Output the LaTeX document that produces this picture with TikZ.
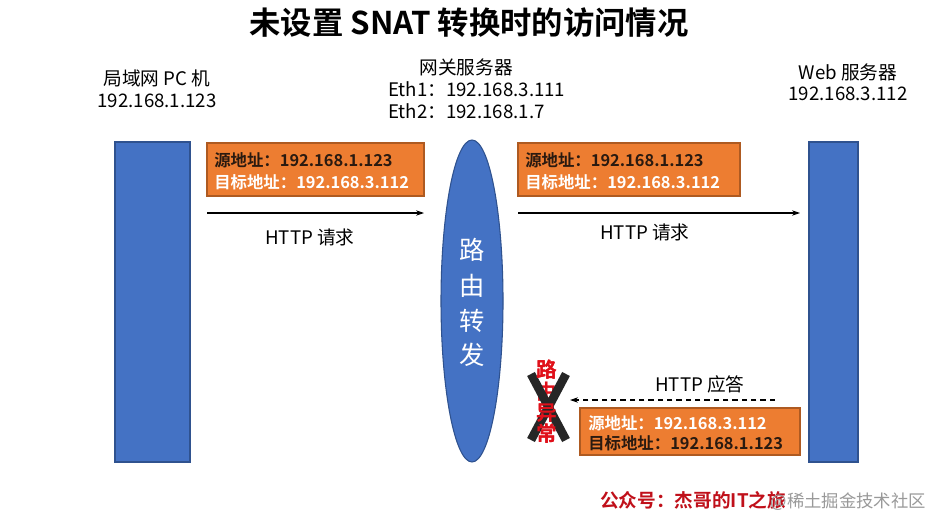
\documentclass[tikz,border=0pt]{standalone}
\usepackage{fontspec}
\setmainfont{Noto Sans CJK SC}
\newfontfamily\cjkbold{Noto Sans CJK SC Bold}
\usetikzlibrary{arrows.meta,shapes.geometric}
\definecolor{boxblue}{HTML}{4472C4}
\definecolor{boxblueedge}{HTML}{2F528F}
\definecolor{addrorange}{HTML}{ED7D31}
\definecolor{addredge}{HTML}{AE5A21}
\definecolor{darktext}{HTML}{2A1A10}
\definecolor{errred}{HTML}{E0101A}
\definecolor{signred}{HTML}{C0101A}
\tikzset{
  host/.style={draw=boxblueedge, line width=0.8pt, fill=boxblue},
  addrbox/.style={draw=addredge, line width=0.8pt, fill=addrorange},
  lbl/.style={font=\fontsize{14}{16}\selectfont, inner sep=0pt},
  addr/.style={font=\cjkbold\fontsize{12.3}{15}\selectfont, inner sep=0pt, anchor=west},
  req/.style={-{Stealth[length=6pt,width=4pt]}, line width=0.8pt},
}
\begin{document}
\begin{tikzpicture}[x=0.75pt,y=-0.75pt]
\useasboundingbox[fill=white] (0,0) rectangle (944,531);

% title
\node[font=\cjkbold\fontsize{23.5}{25}\selectfont, inner sep=0pt] (title) at (469,23) {未设置 SNAT 转换时的访问情况};

% host labels
\node[lbl] (pcname) at (157,78) {局域网 PC 机};
\node[lbl] (pcip) at (157,101) {192.168.1.123};
\node[lbl] (gwname) at (466,67) {网关服务器};
\node[lbl, anchor=west] (gweth1) at (388,89) {Eth1：192.168.3.111};
\node[lbl, anchor=west] (gweth2) at (388,111) {Eth2：192.168.1.7};
\node[lbl] (webname) at (848,72) {Web 服务器};
\node[lbl] (webip) at (848,94) {192.168.3.112};

% hosts
\draw[host] (115,142) rectangle (190,462);
\draw[host] (809,142) rectangle (858,462);
\coordinate (webL) at (800,213);
\node[ellipse, host, minimum width=62*0.75pt, minimum height=322*0.75pt, inner sep=0pt] (gw) at (472,301) {};
\foreach \c/\y in {路/250,由/286,转/321,发/355}
  \node[font=\fontsize{19}{20}\selectfont, text=white, inner sep=0pt] at (472,\y) {\c};

% request left
\draw[addrbox] (207,143) rectangle (424,196);
\node[addr, text=darktext] (a1s) at (214,160) {源地址：192.168.1.123};
\node[addr, text=white] (a1d) at (214,182) {目标地址：192.168.3.112};
\coordinate (r1s) at (207,213);
\coordinate (r1e) at (424,213);
\draw[req] (r1s) -- (r1e);
\node[lbl] (r1l) at (310,237) {HTTP 请求};

% request right
\draw[addrbox] (518,143) rectangle (740,196);
\node[addr, text=darktext] (a2s) at (525,160) {源地址：192.168.1.123};
\node[addr, text=white] (a2d) at (525,182) {目标地址：192.168.3.112};
\coordinate (r2s) at (518,213);
\draw[req] (r2s) -- (webL);
\node[lbl] (r2l) at (645,232) {HTTP 请求};

% response
\node[lbl] (r3l) at (700,384) {HTTP 应答};
\coordinate (r3s) at (775,400);
\coordinate (r3e) at (570,400);
\draw[req, dashed, dash pattern=on 4pt off 3pt] (r3s) -- (r3e);
\draw[addrbox] (580,408) rectangle (800,455);
\node[addr, text=white] (a3s) at (588,423) {源地址：192.168.3.112};
\node[addr, text=darktext] (a3d) at (588,443) {目标地址：192.168.1.123};

% failure mark
\foreach \c/\y in {路/370,由/392,异/413,常/434}
  \node[font=\cjkbold\fontsize{15.5}{16}\selectfont, text=errred, inner sep=0pt] at (547,\y) {\c};
\draw[line width=6.5pt, black!85] (531,374) -- (566,440);
\draw[line width=6.5pt, black!85] (566,374) -- (531,440);
\foreach \c/\y in {路/370,异/413,常/434}
  \node[font=\cjkbold\fontsize{15.5}{16}\selectfont, text=errred, inner sep=0pt] at (547,\y) {\c};

% footer
\node[font=\cjkbold\fontsize{14}{16}\selectfont, text=signred, inner sep=0pt, anchor=west] (sign) at (600,500) {公众号：杰哥的IT之旅};
\node[font=\fontsize{13}{15}\selectfont, text=black!40, inner sep=0pt, anchor=east] (wm) at (926,502) {@稀土掘金技术社区};
\end{tikzpicture}
\end{document}
